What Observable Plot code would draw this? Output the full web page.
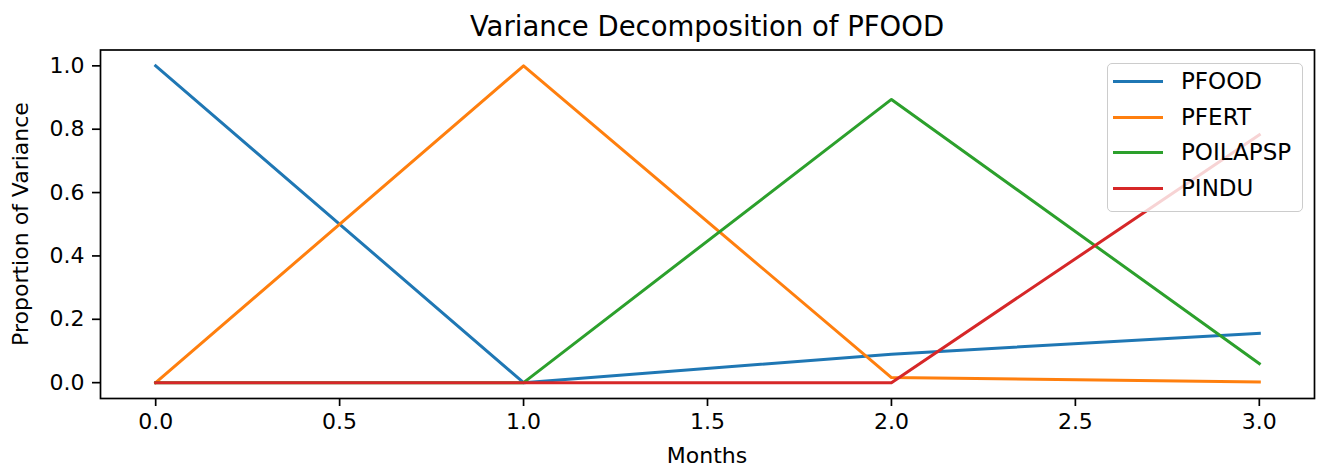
<!DOCTYPE html>
<html>
<head>
<meta charset="utf-8">
<script src="https://cdn.jsdelivr.net/npm/d3@7"></script>
<script src="https://cdn.jsdelivr.net/npm/@observablehq/plot@0.6"></script>
<style>
  html, body { margin: 0; padding: 0; background: #fff; }
  #wrap { position: relative; width: 1317px; height: 471px; font-family: "DejaVu Sans", sans-serif; color: #000; }
  #wrap svg { position: absolute; left: 0; top: 0; }
  .lbl { position: absolute; line-height: 1; white-space: nowrap; }
</style>
</head>
<body>
<div id="wrap"></div>
<script>
const titleText = "Variance Decomposition of PFOOD";
const xLabel = "Months";
const yLabel = "Proportion of Variance";

const months = [0, 1, 2, 3];
const seriesNames = ["PFOOD", "PFERT", "POILAPSP", "PINDU"];
const seriesColors = ["#1f77b4", "#ff7f0e", "#2ca02c", "#d62728"];
const pfood    = [1.000, 0.000, 0.090, 0.156];
const pfert    = [0.000, 1.000, 0.016, 0.002];
const poilapsp = [0.000, 0.000, 0.894, 0.060];
const pindu    = [0.000, 0.000, 0.000, 0.782];

const xTicks = [0, 0.5, 1, 1.5, 2, 2.5, 3];
const yTicks = [0, 0.2, 0.4, 0.6, 0.8, 1.0];

const seriesValues = [pfood, pfert, poilapsp, pindu];
const rows = [];
seriesNames.forEach((name, i) => {
  months.forEach((m, j) => rows.push({series: name, month: m, value: seriesValues[i][j]}));
});

const W = 1317, H = 471;
const mL = 100, mR = 3, mT = 49.5, mB = 73;

const chart = Plot.plot({
  width: W,
  height: H,
  marginLeft: mL,
  marginRight: mR,
  marginTop: mT,
  marginBottom: mB,
  style: {fontFamily: "DejaVu Sans, sans-serif", fontSize: "22px", color: "#000", background: "transparent", overflow: "visible"},
  x: {domain: [-0.15, 3.15]},
  y: {domain: [-0.05, 1.05]},
  color: {domain: seriesNames, range: seriesColors},
  marks: [
    Plot.line(rows, {x: "month", y: "value", z: "series", stroke: "series", strokeWidth: 3, strokeLinecap: "square", strokeLinejoin: "round"}),
    Plot.frame({stroke: "#000", strokeWidth: 1.7}),
    Plot.axisX({ticks: xTicks, tickFormat: d3.format(".1f"), tickSize: 8, tickPadding: 7, strokeWidth: 1.7, label: null, fontSize: 22}),
    Plot.axisY({ticks: yTicks, tickFormat: d3.format(".1f"), tickSize: 8, tickPadding: 8, strokeWidth: 1.7, label: null, fontSize: 22})
  ]
});

const wrap = document.getElementById("wrap");
wrap.appendChild(chart);

const axCx = (mL + (W - mR)) / 2;
const axCy = (mT + (H - mB)) / 2;

function addLabel(text, size, css) {
  const d = document.createElement("div");
  d.className = "lbl";
  d.textContent = text;
  d.style.fontSize = size + "px";
  Object.assign(d.style, css);
  wrap.appendChild(d);
  return d;
}

addLabel(titleText, 27.5, {left: axCx + "px", top: (36 - 0.846 * 27.5) + "px", transform: "translateX(-50%)"});
addLabel(xLabel, 22, {left: axCx + "px", top: (464 - 0.846 * 22) + "px", transform: "translateX(-50%)"});
addLabel(yLabel, 22, {left: "21px", top: axCy + "px", transform: "translate(-50%,-50%) rotate(-90deg)"});

const leg = document.createElement("div");
Object.assign(leg.style, {
  position: "absolute", left: "1107px", top: "63px", width: "196px", height: "149px",
  border: "1px solid #cccccc", borderRadius: "5px", background: "rgba(255,255,255,0.8)", boxSizing: "border-box"
});
wrap.appendChild(leg);
const rowY = [81.7, 117.3, 152.7, 188.3];
seriesNames.forEach((name, i) => {
  const ln = document.createElement("div");
  Object.assign(ln.style, {
    position: "absolute", left: "1113px", top: (rowY[i] - 1.5) + "px", width: "50px", height: "3px", background: seriesColors[i]
  });
  wrap.appendChild(ln);
  addLabel(name, 23, {left: "1181px", top: (rowY[i] + 8 - 0.846 * 23) + "px"});
});
</script>
</body>
</html>
